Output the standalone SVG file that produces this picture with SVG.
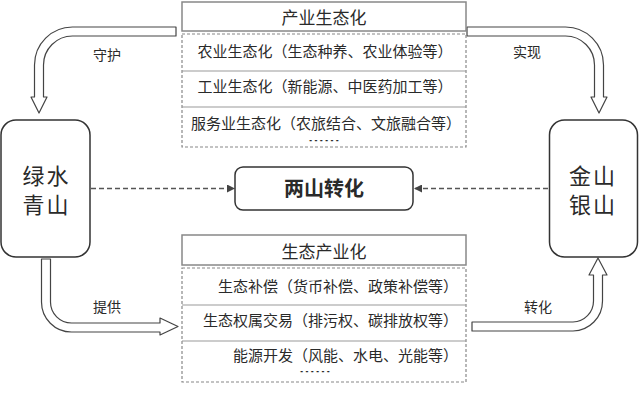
<svg xmlns="http://www.w3.org/2000/svg" width="639" height="401" viewBox="0 0 639 401">
<style>
text{font-family:"Noto Sans CJK SC","Noto Sans CJK TC",sans-serif;fill:#2a2a2a}
.node{fill:#fff;stroke:#333;stroke-width:1.5}
.title{fill:#fff;stroke:#888;stroke-width:1.5}
.dbox{fill:#fff;stroke:#888;stroke-width:1.2;stroke-dasharray:3 2}
.sep{stroke:#999;stroke-width:1.2}
.row{font-size:15px;text-anchor:middle}
.rowr{font-size:15px;text-anchor:end}
.dots{font-size:16px;text-anchor:middle;font-weight:bold}
.ttl{font-size:17px;text-anchor:middle}
.big{font-size:22px;text-anchor:middle;letter-spacing:2px}
.lbl{font-size:14px;text-anchor:middle}
.block{fill:#fff;stroke:#444;stroke-width:1.2;stroke-linejoin:round}
.dash{stroke:#555;stroke-width:1.3;stroke-dasharray:5 3;fill:none}
</style>
<defs>
<marker id="ah" viewBox="0 0 10 10" refX="10" refY="5" markerWidth="8" markerHeight="8" markerUnits="userSpaceOnUse" orient="auto">
<path d="M0,0 L10,5 L0,10 Z" fill="#444"/>
</marker>
</defs>
<g id="connectors">
<path class="block" d="M176,27 H72.5 A38,38 0 0 0 34.5,65 V97 H31 L39,113 L47,97 H43.5 V65 A29,29 0 0 1 72.5,36 H176 Z"/>
<path class="block" d="M467,27 H565.5 A38,38 0 0 1 603.5,65 V97 H607 L599,113 L591,97 H594.5 V65 A29,29 0 0 0 565.5,36 H467 Z"/>
<path class="block" d="M41.5,259 V302 A30,30 0 0 0 71.5,332 H160 V335 L178,326.5 L160,318 V323 H71.5 A21,21 0 0 1 50.5,302 V259 Z"/>
<path class="block" d="M472,322 H573 A21,21 0 0 0 593.5,301 V275 H589 L598,258 L607,275 H602.5 V301 A30,30 0 0 1 573,331 H472 Z"/>
<line class="dash" x1="91" y1="188.5" x2="235" y2="188.5" marker-end="url(#ah)"/>
<line class="dash" x1="548" y1="188.5" x2="414" y2="188.5" marker-end="url(#ah)"/>
<text class="lbl" x="107" y="60">守护</text>
<text class="lbl" x="527" y="57">实现</text>
<text class="lbl" x="107" y="312">提供</text>
<text class="lbl" x="538" y="312">转化</text>
</g>
<g id="lvshui">
<rect class="node" x="1" y="120" width="89" height="137" rx="15"/>
<text class="big" x="46.5" y="183.5">绿水</text>
<text class="big" x="46.5" y="212.5">青山</text>
</g>
<g id="jinshan">
<rect class="node" x="549.5" y="120" width="88" height="137" rx="15"/>
<text class="big" x="593" y="183.5">金山</text>
<text class="big" x="593" y="212.5">银山</text>
</g>
<g id="liangshan">
<rect class="node" x="235" y="167" width="178" height="43" rx="8"/>
<text x="324" y="196" font-size="20" font-weight="bold" text-anchor="middle">两山转化</text>
</g>
<g id="chanye">
<rect class="title" x="182" y="2" width="284" height="29"/>
<text class="ttl" x="324" y="24">产业生态化</text>
<rect class="dbox" x="182" y="34" width="284" height="113"/>
<line class="sep" x1="182" y1="71" x2="466" y2="71"/>
<line class="sep" x1="182" y1="107" x2="466" y2="107"/>
<text class="row" x="325" y="56.5">农业生态化（生态种养、农业体验等）</text>
<text class="row" x="325" y="92">工业生态化（新能源、中医药加工等）</text>
<text class="row" x="326" y="128.5">服务业生态化（农旅结合、文旅融合等）</text>
<text class="dots" transform="translate(324,144.2) scale(1,0.5)">……</text>
</g>
<g id="shengtai">
<rect class="title" x="182" y="235" width="284" height="30"/>
<text class="ttl" x="324" y="258">生态产业化</text>
<rect class="dbox" x="182" y="268" width="284" height="114"/>
<line class="sep" x1="182" y1="305" x2="466" y2="305"/>
<line class="sep" x1="182" y1="341" x2="466" y2="341"/>
<text class="rowr" x="458" y="292">生态补偿（货币补偿、政策补偿等）</text>
<text class="rowr" x="458" y="326">生态权属交易（排污权、碳排放权等）</text>
<text class="rowr" x="458" y="360.5">能源开发（风能、水电、光能等）</text>
<text class="dots" transform="translate(315,375.2) scale(1,0.5)">……</text>
</g>
</svg>
